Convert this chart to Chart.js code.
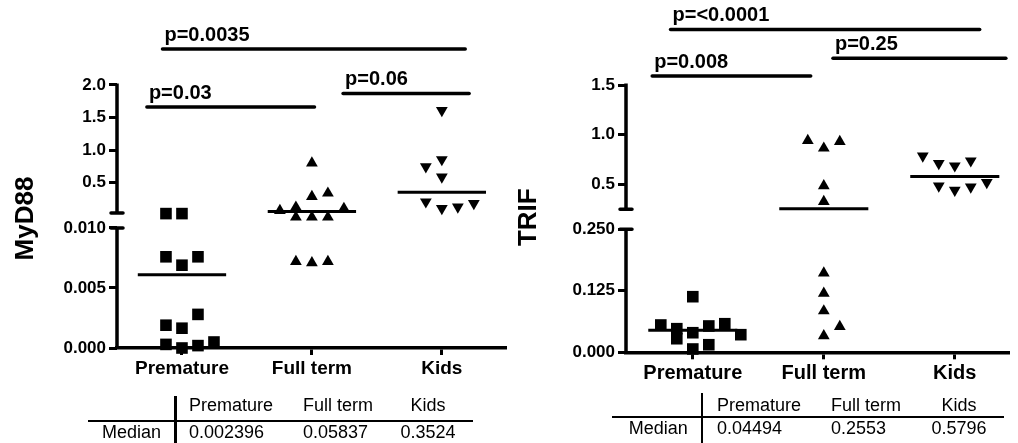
<!DOCTYPE html>
<html>
<head>
<meta charset="utf-8">
<script src="https://cdn.jsdelivr.net/npm/chart.js"></script>
<style>
  html, body { margin: 0; padding: 0; background: #fff; }
  body { width: 1018px; height: 443px; position: relative; overflow: hidden; font-family: "Liberation Sans", Arial, sans-serif; }
  .panel { position: absolute; top: 0; height: 443px; }
  #leftBox { left: 0; width: 515px; }
  #rightBox { left: 509px; width: 509px; }
  .t { position: absolute; font-size: 18px; line-height: 18px; white-space: nowrap; color: #000; }
  .rule { position: absolute; background: #000; }
</style>
</head>
<body>
<div class="panel" id="leftBox"><canvas id="myd88Chart" width="515" height="443"></canvas></div>
<div class="panel" id="rightBox"><canvas id="trifChart" width="509" height="443"></canvas></div>
<script>
Chart.defaults.font.family = '"Liberation Sans", Arial, sans-serif';
Chart.defaults.color = '#000';

var groups = ["Premature", "Full term", "Kids"];

// MyD88 (left panel)
var myd88Premature = [0.0112, 0.0112, 0.0076, 0.0069, 0.0076, 0.0019, 0.00165, 0.0028, 0.0003, 0.0000, 0.0002, 0.0005];
var myd88FullTerm = [0.80, 0.124, 0.288, 0.339, 0.074, 0.0109, 0.0109, 0.0109, 0.105, 0.0072, 0.0071, 0.0072];
var myd88Kids = [1.61, 0.745, 0.855, 0.59, 0.207, 0.104, 0.130, 0.181];
var myd88Lines = [0.0061, 0.05837, 0.3524];
var myd88Medians = [0.002396, 0.05837, 0.3524];
var myd88LowTicks = [0, 0.005, 0.010];
var myd88HighTicks = [0.5, 1.0, 1.5, 2.0];
var myd88PLabels = ["p=0.03", "p=0.06", "p=0.0035"];
var myd88PFrom = [0.73, 2.24, 0.85];
var myd88PTo = [2.02, 3.21, 3.18];
var myd88PAt = [1.66, 1.87, 2.55];

// TRIF (right panel)
var trifPremature = [0.113, 0.0555, 0.048, 0.0398, 0.0535, 0.0581, 0.0358, 0.0276, 0.0067, 0.0154];
var trifFullTerm = [0.94, 0.864, 0.93, 0.485, 0.327, 0.161, 0.120, 0.084, 0.0335, 0.0524];
var trifKids = [0.787, 0.710, 0.687, 0.737, 0.485, 0.441, 0.475, 0.519];
var trifLines = [0.04494, 0.2553, 0.5796];
var trifMedians = [0.04494, 0.2553, 0.5796];
var trifLowTicks = [0, 0.125, 0.250];
var trifHighTicks = [0.5, 1.0, 1.5];
var trifPLabels = ["p=0.008", "p=0.25", "p=<0.0001"];
var trifPFrom = [0.69, 2.07, 0.83];
var trifPTo = [1.90, 3.39, 3.19];
var trifPAt = [1.59, 1.77, 2.06];

var shapes = ['rect', 'triangle', 'triangle'];
var turns = [0, 0, 180];
var sizes = [8.2, 6.8, 6.8];
var slotPx = 16;
var rowPx = 14.7;

// spread points that sit at about the same height side by side
function spread(chart, groupPts) {
  var xs = chart.scales.x;
  var unit = slotPx / (xs.getPixelForValue(1) - xs.getPixelForValue(0));
  groupPts.forEach(function (pts, i) {
    pts.forEach(function (q, k) {
      q.k = k;
      q.py = chart.scales[q.axis].getPixelForValue(q.pt.y);
    });
    var sorted = pts.slice().sort(function (a, b) { return a.py - b.py; });
    var rows = [];
    var row = null;
    sorted.forEach(function (q) {
      if (!row || q.py - row[0].py >= rowPx) {
        row = [q];
        rows.push(row);
      } else {
        row.push(q);
      }
    });
    var lean = 1;
    rows.reverse().forEach(function (r) {
      r.sort(function (a, b) { return a.k - b.k; });
      var n = r.length;
      var first = -Math.floor((n - 1) / 2);
      if (n % 2 === 0) {
        if (lean < 0) first -= 1;
        lean = -lean;
      }
      r.forEach(function (q, j) { q.pt.x = i + 1 + (first + j) * unit; });
    });
  });
}

function yScale(s) {
  return {
    type: 'linear', position: 'left', stack: 'y', stackWeight: s.weight,
    min: s.min, max: s.max,
    afterBuildTicks: function (scale) {
      scale.ticks = s.ticks.map(function (v) { return { value: v }; });
    },
    afterFit: function (scale) { scale.width = 117; },
    ticks: {
      padding: 3, color: '#000', font: { size: 17, weight: 'bold' },
      callback: function (v) { return v.toFixed(s.digits); }
    },
    grid: { drawOnChartArea: false, tickLength: 8, tickWidth: 3, tickColor: '#000' },
    border: { display: false }
  };
}

function makePanel(canvasId, p) {
  var datasets = [];
  var groupPts = [];
  p.series.forEach(function (vals, i) {
    var style = {
      type: 'scatter', pointStyle: shapes[i], pointRotation: turns[i], pointRadius: sizes[i],
      backgroundColor: '#000', borderColor: '#000', borderWidth: 0, clip: false
    };
    var low = Object.assign({ yAxisID: 'yLow', data: [] }, style);
    var high = Object.assign({ yAxisID: 'yHigh', data: [] }, style);
    var pts = [];
    vals.forEach(function (v) {
      var side = v > p.cut ? high : low;
      var pt = { x: i + 1, y: v };
      side.data.push(pt);
      pts.push({ pt: pt, axis: side.yAxisID });
    });
    datasets.push(low, high);
    groupPts.push(pts);
  });

  p.lines.forEach(function (v, i) {
    datasets.push({
      type: 'line', yAxisID: v > p.cut ? 'yHigh' : 'yLow',
      data: [{ x: i + 0.66, y: v }, { x: i + 1.34, y: v }],
      borderColor: '#000', borderWidth: 3, pointRadius: 0, clip: false
    });
  });

  var pFirst = datasets.length;
  p.pLabels.forEach(function (lab, i) {
    datasets.push({
      type: 'line', yAxisID: 'yHigh',
      data: [{ x: p.pFrom[i], y: p.pAt[i] }, { x: p.pTo[i], y: p.pAt[i] }],
      borderColor: '#000', borderWidth: 3.5, borderCapStyle: 'round', pointRadius: 0, clip: false
    });
  });

  var deco = {
    id: 'deco',
    afterDatasetsDraw: function (chart) {
      var ctx = chart.ctx;
      var x0 = chart.chartArea.left;
      var lo = chart.scales.yLow, hi = chart.scales.yHigh;
      var loA = lo.getPixelForValue(p.low.seg[0]), loB = lo.getPixelForValue(p.low.seg[1]);
      var hiA = hi.getPixelForValue(p.high.seg[0]), hiB = hi.getPixelForValue(p.high.seg[1]);
      ctx.save();
      ctx.strokeStyle = '#000';
      ctx.fillStyle = '#000';
      ctx.lineWidth = 3.5;
      ctx.lineCap = 'butt';
      ctx.beginPath();
      ctx.moveTo(x0, loA); ctx.lineTo(x0, loB);
      ctx.moveTo(x0, hiA); ctx.lineTo(x0, hiB - 1.5);
      ctx.stroke();
      ctx.lineCap = 'round';
      ctx.beginPath();
      ctx.moveTo(x0 - 6, loB); ctx.lineTo(x0 + 6, loB);
      ctx.moveTo(x0 - 6, hiA); ctx.lineTo(x0 + 6, hiA);
      ctx.stroke();

      ctx.font = 'bold 20px "Liberation Sans", Arial, sans-serif';
      ctx.textAlign = 'left';
      ctx.textBaseline = 'alphabetic';
      p.pLabels.forEach(function (lab, i) {
        var pt = chart.getDatasetMeta(pFirst + i).data[0];
        ctx.fillText(lab, pt.x + 2, pt.y - 8);
      });

      ctx.font = 'bold 26px "Liberation Sans", Arial, sans-serif';
      ctx.translate(p.titleX, (hiA + loB) / 2 - 2);
      ctx.rotate(-Math.PI / 2);
      ctx.textAlign = 'center';
      ctx.fillText(p.title, 0, 0);
      ctx.restore();
    }
  };

  var chart = new Chart(canvasId, {
    type: 'scatter',
    data: { datasets: datasets },
    options: {
      responsive: false,
      animation: false,
      events: [],
      layout: { padding: { top: 20, left: 0, right: 0, bottom: 0 } },
      plugins: { legend: { display: false }, tooltip: { enabled: false } },
      scales: {
        x: {
          type: 'linear', min: p.xMin, max: p.xMax,
          afterBuildTicks: function (scale) {
            scale.ticks = groups.map(function (g, i) { return { value: i + 1 }; });
          },
          afterFit: function (scale) { scale.height = p.xHeight; },
          ticks: {
            padding: 2, color: '#000', maxRotation: 0, autoSkip: false,
            font: { size: p.xFont, weight: 'bold' },
            callback: function (v) { return groups[Math.round(v) - 1]; }
          },
          grid: { drawOnChartArea: false, tickLength: 7, tickWidth: 3, tickColor: '#000' },
          border: { display: true, width: 3.5, color: '#000' }
        },
        yLow: yScale(p.low),
        yHigh: yScale(p.high)
      }
    },
    plugins: [deco]
  });

  spread(chart, groupPts);
  chart.data.datasets.forEach(function (ds) { ds.data = ds.data.slice(); });
  chart.update('none');
  return chart;
}

function addTable(t, values) {
  function text(str, x, y, align) {
    var d = document.createElement('div');
    d.className = 't';
    d.textContent = str;
    d.style.left = x + 'px';
    d.style.top = (y - 9) + 'px';
    if (align === 'right') d.style.transform = 'translateX(-100%)';
    if (align === 'center') d.style.transform = 'translateX(-50%)';
    document.body.appendChild(d);
  }
  function rule(x, y, w, h) {
    var d = document.createElement('div');
    d.className = 'rule';
    d.style.left = x + 'px';
    d.style.top = y + 'px';
    d.style.width = w + 'px';
    d.style.height = h + 'px';
    document.body.appendChild(d);
  }
  rule(t.lineX[0], t.lineY - 1, t.lineX[1] - t.lineX[0], 2);
  rule(t.divX - 1, t.divTop, 2.5, 443 - t.divTop);
  text('Median', t.divX - 14, t.rowY, 'right');
  groups.forEach(function (g, i) {
    var align = i === 2 ? 'center' : 'left';
    text(g, t.cols[i], t.headY, align);
    text(String(values[i]), t.cols[i], t.rowY, align);
  });
}

makePanel('myd88Chart', {
  series: [myd88Premature, myd88FullTerm, myd88Kids],
  lines: myd88Lines,
  cut: 0.02,
  low: { min: 0, max: 0.010583, ticks: myd88LowTicks, digits: 3, seg: [0, 0.010], weight: 127 },
  high: { min: -0.0874, max: 2.9954, ticks: myd88HighTicks, digits: 1, seg: [0.035, 2.0], weight: 201 },
  xMin: 0.5, xMax: 3.5, xHeight: 95, xFont: 19,
  title: 'MyD88', titleX: 33,
  pLabels: myd88PLabels, pFrom: myd88PFrom, pTo: myd88PTo, pAt: myd88PAt
});

makePanel('trifChart', {
  series: [trifPremature, trifFullTerm, trifKids],
  lines: trifLines,
  cut: 0.25,
  low: { min: 0, max: 0.2703, ticks: trifLowTicks, digits: 3, seg: [0, 0.25], weight: 133 },
  high: { min: 0.148, max: 2.1551, ticks: trifHighTicks, digits: 1, seg: [0.25, 1.5], weight: 199.3 },
  xMin: 0.49, xMax: 3.42, xHeight: 90.7, xFont: 20,
  title: 'TRIF', titleX: 27,
  pLabels: trifPLabels, pFrom: trifPFrom, pTo: trifPTo, pAt: trifPAt
});

addTable({ lineY: 420.7, lineX: [88, 473], divX: 175, divTop: 396, headY: 405, rowY: 431.7, cols: [189, 303, 428] }, myd88Medians);
addTable({ lineY: 416.7, lineX: [612, 1004], divX: 701.7, divTop: 393, headY: 405, rowY: 428.3, cols: [717, 831, 959] }, trifMedians);
</script>
</body>
</html>
